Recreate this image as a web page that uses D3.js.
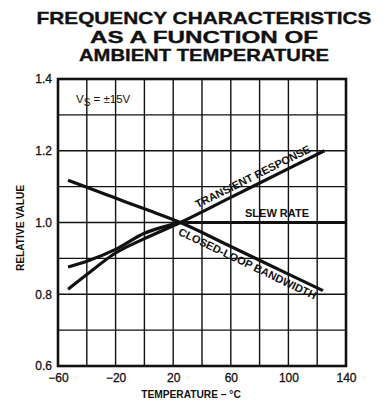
<!DOCTYPE html>
<html>
<head>
<meta charset="utf-8">
<script src="https://cdn.jsdelivr.net/npm/d3@7"></script>
<style>
  html, body { margin: 0; padding: 0; background: #fff; }
  svg { display: block; }
  text { font-family: "Liberation Sans", Arial, sans-serif; fill: #111; }
</style>
</head>
<body>
<svg id="chart" width="387" height="408"></svg>
<script>
// Temperature samples (°C) and relative values for each characteristic
const bandwidthTemps  = [-53, -40, -20, 0, 25, 60, 100, 124];
const bandwidthValues = [1.118, 1.098, 1.068, 1.038, 1.0, 0.933, 0.856, 0.81];

const transientTemps  = [-53, -40, -20, 0, 25, 60, 100, 125];
const transientValues = [0.814, 0.855, 0.915, 0.955, 1.0, 1.07, 1.15, 1.2];

const slewTemps  = [-53, -40, -20, 0, 20, 25, 60, 140];
const slewValues = [0.876, 0.892, 0.925, 0.97, 0.995, 1.0, 1.0, 1.0];

const xTickLabels = [-60, -20, 20, 60, 100, 140];
const yTickLabels = [0.6, 0.8, 1.0, 1.2, 1.4];
const xGrid = [-40, 0, 40, 80, 120];
const yGrid = [0.7, 0.9, 1.1, 1.3];

const titleLines = ["FREQUENCY CHARACTERISTICS", "AS A FUNCTION OF", "AMBIENT TEMPERATURE"];
const titleWidths = [335, 228, 250];

const svg = d3.select("#chart");
const plotLeft = 58, plotRight = 346, plotTop = 79, plotBottom = 366;

const x = d3.scaleLinear().domain([-60, 140]).range([plotLeft, plotRight]);
const y = d3.scaleLinear().domain([0.6, 1.4]).range([plotBottom, plotTop]);

// Title, three centred lines in a wide heavy face
svg.append("g").selectAll("text").data(titleLines).join("text")
  .attr("x", 204)
  .attr("y", (d, i) => 24 + i * 18.5)
  .attr("text-anchor", "middle")
  .attr("textLength", (d, i) => titleWidths[i])
  .attr("lengthAdjust", "spacingAndGlyphs")
  .style("font-size", "17px")
  .style("font-weight", "bold")
  .style("stroke", "#111").style("stroke-width", 0.35)
  .text(d => d);

// Grid
const grid = svg.append("g").attr("stroke", "#111").attr("stroke-width", 1.4);
grid.selectAll("line.v").data(xGrid.concat(xTickLabels.slice(1, -1))).join("line")
  .attr("class", "v")
  .attr("x1", d => x(d)).attr("x2", d => x(d))
  .attr("y1", plotTop).attr("y2", plotBottom);
grid.selectAll("line.h").data(yGrid.concat(yTickLabels.slice(1, -1))).join("line")
  .attr("class", "h")
  .attr("x1", plotLeft).attr("x2", plotRight)
  .attr("y1", d => y(d)).attr("y2", d => y(d));

// Frame
svg.append("rect")
  .attr("x", plotLeft).attr("y", plotTop)
  .attr("width", plotRight - plotLeft).attr("height", plotBottom - plotTop)
  .attr("fill", "none").attr("stroke", "#111").attr("stroke-width", 2.6);

// Axes
const xAxis = svg.append("g")
  .attr("transform", `translate(0,${plotBottom})`)
  .call(d3.axisBottom(x).tickValues(xTickLabels).tickSize(0).tickPadding(7));
const yAxis = svg.append("g")
  .attr("transform", `translate(${plotLeft},0)`)
  .call(d3.axisLeft(y).tickValues(yTickLabels).tickFormat(d3.format(".1f")).tickSize(0).tickPadding(6));
[xAxis, yAxis].forEach(a => {
  a.select(".domain").remove();
  a.selectAll("text")
    .style("font-size", "12px")
    .style("font-family", "'Liberation Sans', Arial, sans-serif")
    .style("stroke", "#111").style("stroke-width", 0.3)
    .attr("fill", "#111");
});

// Axis titles
svg.append("text")
  .attr("x", 191).attr("y", 398)
  .attr("text-anchor", "middle")
  .style("font-size", "10.2px").style("font-weight", "bold")
  .text("TEMPERATURE – °C");
svg.append("text")
  .attr("transform", "translate(24,228) rotate(-90)")
  .attr("text-anchor", "middle")
  .style("font-size", "10.2px").style("font-weight", "bold")
  .text("RELATIVE VALUE");

// Supply note
const vs = svg.append("text").attr("x", 76).attr("y", 103)
  .style("font-size", "11.5px");
vs.append("tspan").text("V");
vs.append("tspan").attr("dy", 3).style("font-size", "10px").text("S");
vs.append("tspan").attr("dy", -3).text(" = ±15V");

// Curves
const line = d3.line().x(d => x(d[0])).y(d => y(d[1])).curve(d3.curveMonotoneX);
const series = [
  d3.zip(bandwidthTemps, bandwidthValues),
  d3.zip(transientTemps, transientValues),
  d3.zip(slewTemps, slewValues)
];
svg.append("g").selectAll("path").data(series).join("path")
  .attr("d", line)
  .attr("fill", "none")
  .attr("stroke", "#111")
  .attr("stroke-width", 3.2)
  .attr("stroke-linecap", "butt");

// Curve labels placed along their lines
function lineLabel(temps, values, t0, t1, at, text, dy) {
  const interp = d3.scaleLinear().domain(temps).range(values);
  const v0 = interp(t0), v1 = interp(t1);
  const ang = Math.atan2(y(v1) - y(v0), x(t1) - x(t0)) * 180 / Math.PI;
  svg.append("text")
    .attr("transform", `translate(${x(at)},${y(interp(at))}) rotate(${ang})`)
    .attr("text-anchor", "middle")
    .attr("dy", dy)
    .style("font-size", "11px").style("font-weight", "bold")
    .text(text);
}
lineLabel(transientTemps, transientValues, 25, 125, 78, "TRANSIENT RESPONSE", -5);
lineLabel(bandwidthTemps, bandwidthValues, 25, 124, 74, "CLOSED-LOOP BANDWIDTH", 12);
svg.append("text")
  .attr("x", 277).attr("y", y(1.0) - 6)
  .attr("text-anchor", "middle")
  .style("font-size", "11px").style("font-weight", "bold")
  .text("SLEW RATE");
</script>
</body>
</html>
